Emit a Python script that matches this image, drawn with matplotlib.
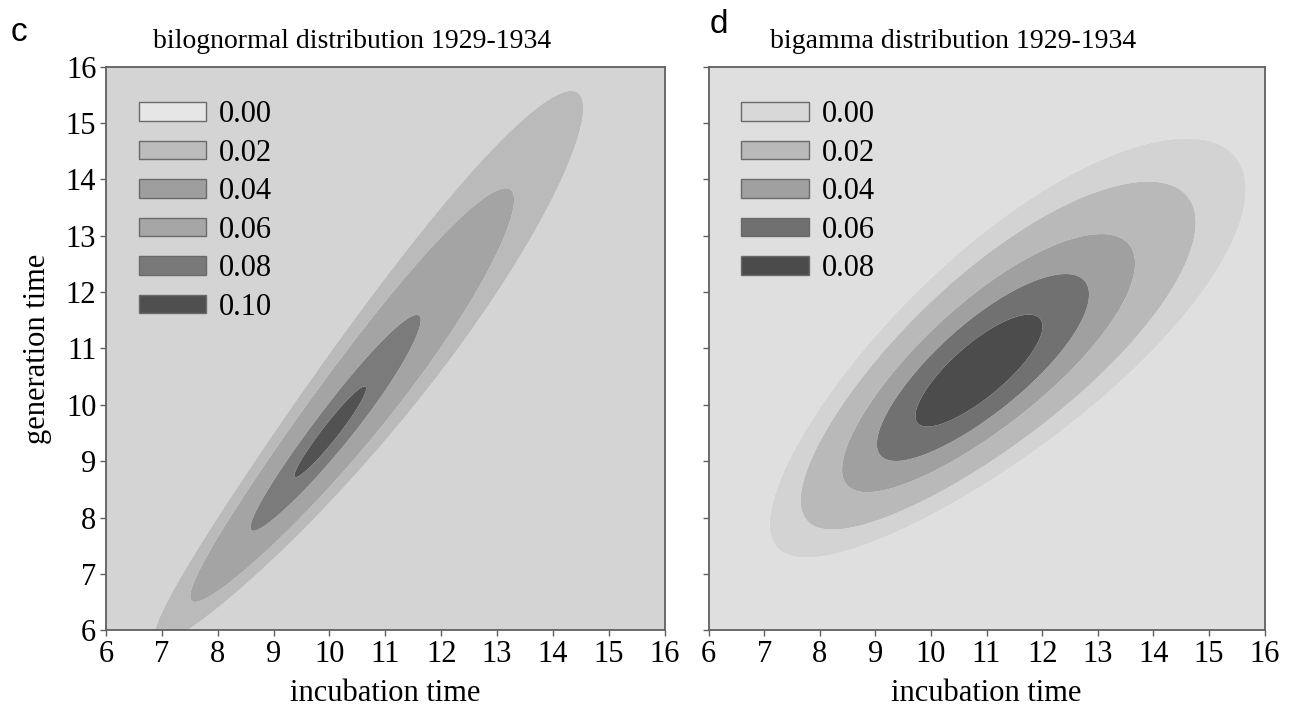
import numpy as np
import matplotlib.pyplot as plt
from matplotlib.patches import Patch

plt.rcParams['font.family'] = ['Liberation Serif', 'DejaVu Serif']

# axis ticks (both panels)
ticks = np.arange(6, 17)

# panel c - bilognormal, surface (log space)
c_mode = [2.302, 2.250]      # ln(incubation), ln(generation)
c_sd = [0.206, 0.272]
c_rho = 0.96
c_peak = 0.105
c_levels = [0.0, 0.02, 0.04, 0.06, 0.08, 0.10, 1.0]
c_labels = ['0.00', '0.02', '0.04', '0.06', '0.08', '0.10']
c_fill = ['#d4d4d4', '#bababa', '#a4a4a4', '#a4a4a4', '#7b7b7b', '#525252']
c_legend = ['#e6e6e6', '#bcbcbc', '#9e9e9e', '#a6a6a6', '#797979', '#4f4f4f']

# panel d - bigamma, surface (cube-root space)
d_mode = [2.212, 2.195]
d_sd = [0.137, 0.121]
d_rho = 0.80
d_peak = 0.094
d_levels = [0.0, 0.01, 0.02, 0.04, 0.06, 0.08, 1.0]
d_labels = ['0.00', '0.02', '0.04', '0.06', '0.08']
d_fill = ['#dfdfdf', '#d3d3d3', '#b9b9b9', '#a0a0a0', '#717171', '#4c4c4c']
d_legend = ['#d8d8d8', '#b9b9b9', '#a0a0a0', '#707070', '#4b4b4b']


def surface(tx, ty, mode, sd, rho, peak):
    a = (tx - mode[0]) / sd[0]
    b = (ty - mode[1]) / sd[1]
    q = (a * a - 2 * rho * a * b + b * b) / (1 - rho ** 2)
    return peak * np.exp(-q / 2)


def merge_bands(levels, colors):
    # bands with the same shade show no edge in the figure
    lv, cl = [levels[0]], []
    for i, c in enumerate(colors):
        if cl and c == cl[-1]:
            lv[-1] = levels[i + 1]
        else:
            cl.append(c)
            lv.append(levels[i + 1])
    return lv, cl


g = np.linspace(5.5, 16.5, 600)
X, Y = np.meshgrid(g, g)
Zc = surface(np.log(X), np.log(Y), c_mode, c_sd, c_rho, c_peak)
Zd = surface(np.cbrt(X), np.cbrt(Y), d_mode, d_sd, d_rho, d_peak)

fig = plt.figure(figsize=(12.93, 7.17), dpi=100)
axc = fig.add_axes([0.082, 0.121, 0.432, 0.786])
axd = fig.add_axes([0.548, 0.121, 0.430, 0.786])

edge = '#606060'
for ax, Z, lev, fill, leg_c, labs, title in [
        (axc, Zc, c_levels, c_fill, c_legend, c_labels, 'bilognormal distribution 1929-1934'),
        (axd, Zd, d_levels, d_fill, d_legend, d_labels, 'bigamma distribution 1929-1934')]:
    lv, cl = merge_bands(lev, fill)
    ax.contourf(X, Y, Z, levels=lv, colors=cl, antialiased=True)
    ax.set_xlim(6, 16)
    ax.set_ylim(6, 16)
    ax.set_xticks(ticks)
    ax.set_yticks(ticks)
    for s in ax.spines.values():
        s.set_color(edge)
        s.set_linewidth(1.3)
    ax.tick_params(direction='out', length=4, width=1, color=edge, labelsize=22, pad=3)
    ax.set_xlabel('incubation time', fontsize=22, labelpad=7)
    ax.text(0.44, 1.022, title, transform=ax.transAxes, ha='center', va='bottom', fontsize=20)
    handles = [Patch(facecolor=c, edgecolor='#6a6a6a', linewidth=1) for c in leg_c]
    ax.legend(handles, labs, loc='upper left', bbox_to_anchor=(0.02, 0.978), frameon=False,
              fontsize=22, handlelength=2.22, handleheight=0.56, handletextpad=0.42,
              labelspacing=0.31, borderaxespad=0.3)

axd.tick_params(labelleft=False)
axc.set_ylabel('generation time', fontsize=22, labelpad=10)

fig.text(0.008, 0.955, 'c', fontsize=24, family='Liberation Sans', va='center')
fig.text(0.549, 0.966, 'd', fontsize=24, family='Liberation Sans', va='center')

fig.savefig('out.png', dpi=100)
